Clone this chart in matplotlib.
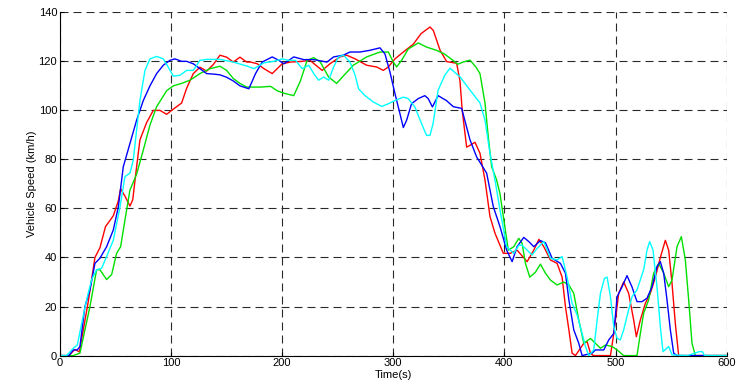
import numpy as np
import matplotlib
matplotlib.use("Agg")
import matplotlib.pyplot as plt

## speed traces, time (s) and vehicle speed (km/h)
t_red = [0, 8, 13.5, 17.5, 25.5, 31.5, 36, 41, 48, 52.5, 54.6, 58.5, 63, 65.5, 69, 72, 78, 84, 90, 96,
         100.5, 105, 109.5, 114, 120, 126, 132, 138, 144, 150, 156, 162, 168, 171.6, 177.6, 183.6, 191,
         200, 207.5, 218, 225, 236, 243, 252, 258, 265.7, 276, 285, 291, 295.5, 301.5, 309, 318, 325,
         333, 336, 342, 348, 357, 360, 362, 366, 370, 373.5, 378, 382.5, 387, 391.5, 399, 405.4,
         411.4, 420.4, 426.4, 431, 435.4, 441.4, 447.4, 451.9, 454.9, 458, 460.9, 463.9, 471.4, 474.4,
         477.4, 480, 495.4, 498.4, 502.8, 507.3, 511.8, 516.3, 518.7, 522.3, 526.8, 531.3, 535.8,
         540.3, 544.8, 547.8, 550.8, 553.8, 556.8, 600]
v_red = [0, 0, 2.5, 1.5, 22, 40, 44, 52.6, 57, 63, 68, 65, 61, 63.5, 77, 88, 95, 100, 100, 98.4,
         100, 101.5, 103, 109, 115, 117.6, 116, 118.7, 122.5, 121.7, 119.7, 121.7, 119.7, 119.7, 119,
         117, 115, 119, 119.7, 120, 120.4, 116.3, 119, 121.8, 122.5, 121, 118.4, 117.7, 116.3, 117.7,
         121, 123.8, 127, 131.3, 134, 132.6, 124.6, 119.9, 119.2, 112, 100, 85, 86, 87, 82.5, 71.6,
         56.7, 49.9, 41.7, 41.7, 43, 38.3, 43, 47.4, 44.4, 39, 37.6, 32, 20, 10.5, 1, 0, 5, 5.7, 1, 0,
         0, 9, 25.4, 30, 25.4, 14.5, 7.7, 14.5, 21.3, 25.4, 32, 40, 47, 43, 29.5, 13, 0, 0]

t_green = [0, 12, 18, 22.5, 27, 33, 36, 39, 42, 46.5, 51, 54.6, 58.5, 63, 69, 75, 81, 87, 96, 102,
           109.5, 117, 126, 135, 144, 150, 156, 162, 168, 171.6, 180.6, 189.6, 195.5, 201.5, 210.4,
           216.4, 222.4, 228.4, 234.3, 241.8, 249, 255, 264, 276, 288, 295.5, 300, 303, 307.5, 313.4,
           322.4, 330, 338.8, 346, 353.7, 358, 362.7, 369, 374.6, 378, 382.5, 385.5, 388.5, 393,
           396, 399, 403.5, 408.4, 412.9, 415.9, 418.9, 422.8, 427.9, 432.4, 436.9, 441.4, 447.4,
           453.4, 458, 462.4, 466.9, 471.4, 477.4, 481.9, 486.4, 491, 496.9, 501.4, 507.3, 519.3,
           522.3, 525.3, 529.8, 534.3, 538.8, 543.3, 547.8, 550.8, 555.3, 559.2, 562.8, 565.8, 568.8,
           571.8, 600]
v_green = [0, 0, 1, 10.5, 20, 35, 35, 33, 31, 33, 41.7, 44.4, 55.3, 67.5, 74, 83.8, 94, 101.5, 108,
           110, 111, 112.3, 115, 117, 118, 116.3, 113, 111, 109.5, 109.5, 109.5, 109.8, 108, 107, 106,
           112, 120.4, 121.5, 119.7, 113.6, 111, 114, 118.4, 121.8, 123.8, 123.8, 119.7, 117.7, 120.4,
           125, 127.5, 125.8, 124.5, 123, 120.4, 118.8, 119.7, 120.5, 117.5, 115, 103, 89, 77, 71.6,
           66, 56.7, 43, 44.4, 47.8, 45.8, 37.6, 32, 34, 37.3, 33.6, 30.8, 28.8, 30, 28.8, 25.4,
           14.5, 5, 7, 5, 3, 4.3, 3.7, 2.3, 0, 0, 9, 17.3, 22.7, 33.6, 37.6, 33.6, 28.1, 30.8, 44.4,
           48.5, 39, 22.7, 5, 0, 0]

t_blue = [0, 8, 12, 15.6, 18, 22.5, 27, 31.5, 36, 42, 48, 52.5, 57, 63, 69, 75, 81, 87, 93, 99, 103.5,
          109.5, 114, 120, 126, 132, 138, 144, 150, 156, 162, 170, 176, 182, 191, 197, 201.5, 210.4,
          219.4, 228.4, 240.3, 246.3, 255, 261, 270, 279, 288, 292.5, 297, 301.5, 306, 309, 312, 316.4,
          322.4, 328.4, 331.4, 335.2, 340.3, 347.8, 354, 361.5, 369, 375, 384, 390, 396, 402, 406.9,
          411.4, 417.4, 421.9, 426.4, 432.4, 436.9, 442.9, 450.4, 454.9, 458,
          462.4, 466.9, 469.9, 478.9, 481.9, 489.4, 493.9, 498.4, 501.4, 505.8, 510.3, 514.8, 519.3,
          523.8, 528.3, 532.8, 537.3, 540.3, 543.3, 546.3, 549.3, 552.3, 555.3, 600]
v_blue = [0, 0, 2.3, 2.3, 3.7, 20, 26.8, 37.6, 39.7, 44.4, 51.2, 60.5, 77, 86.5, 96, 104, 110, 115,
          118.4, 120.4, 121, 120, 120, 119, 117, 115, 114.8, 114.5, 113.5, 112, 110, 108.8, 115,
          119.7, 121.8, 120.4, 119, 121.8, 120.7, 120.7, 119.7, 121.8, 122.5, 123.8, 123.8, 124.5,
          125.5, 123, 115.6, 106.8, 98.6, 93, 96, 102.7, 104.8, 106, 104.8, 101.4, 106, 104, 101.5,
          100.8, 88, 81, 74.4, 60.7, 52.6, 43, 38.3, 44.4, 48.2, 46.5, 44.4, 46.9, 46,
          39.7, 37.6, 33.6, 22.7, 10.5, 5, 0, 1, 2.3, 2.3, 6.4, 9, 24, 28, 32.6, 28, 22, 22, 23.4, 28,
          36.3, 38.3, 33.6, 22.7, 10.5, 1, 0, 0]

t_cyan = [0, 6, 12, 15.6, 19.5, 24, 28.5, 33, 37.5, 42, 48, 54, 58.5, 63, 66, 69, 72, 76.5, 81, 87,
          93, 97.5, 102, 108, 114, 120, 126, 132, 144, 156, 168.7, 174.6, 183.6, 192.5, 200, 206, 212,
          218, 223.9, 228.4, 232.8, 237.3, 241.8, 246.3, 250.7, 255.2, 261, 265.7, 268.7, 274.6, 282,
          289.6, 295.5, 301.5, 309, 313.4, 319.4, 325.4, 329.9, 333, 335.8, 340.3, 346.3, 351, 355,
          360, 369, 378, 382.5, 387, 391.5, 396, 402, 405.4, 408.4, 412.9, 415.9, 420.4,
          424.9, 429.4, 435.4, 441.4, 447.4, 451.9, 456.4, 460.9, 465.4, 469.9, 472.9, 475.9, 480.4,
          483.4, 486.4, 490, 492.4, 495.4, 498.4, 501.4, 504.3, 507.3, 510.3, 514.8, 519.3, 525.3,
          528.3, 530.7, 533.7, 537.3, 540.3, 542.7, 547.8, 550.8, 564.8, 575.3, 578.2, 580, 600]
v_cyan = [0, 0, 3, 4.3, 13, 22.7, 31, 35, 35.6, 40.4, 47, 60.5, 73, 74.4, 79.7, 92, 104, 116.3, 121,
          122, 121, 117.6, 114, 114.3, 116.3, 116.3, 120.4, 120.8, 120.8, 119.7, 118, 117, 119.4, 120,
          121, 120.4, 120.4, 117, 118.4, 115, 112.3, 113.6, 112.3, 117.7, 121.8, 122.5, 119.7, 114.3,
          108.8, 106, 103.4, 101.6, 102.7, 104, 105.4, 104.8, 101.4, 94.6, 89.8, 89.8, 94.6, 108.2,
          114.3, 117.2, 115.6, 113.7, 108.3, 103, 96, 82.5, 71.6, 59.4, 44.4, 43, 41.7, 45, 45, 43, 41,
          43.7, 46.5, 39.7, 39, 40.4, 32, 21.3, 16.6, 9, 3.7, 0, 2.3, 14.5, 25.4, 31.5, 32, 24, 11.8, 7,
          6.4, 10.5, 16, 24, 26.8, 35, 43, 46.5, 43, 28, 11.8, 1.6, 3.7, 0.3, 0, 1.6, 1.6, 0, 0]

x_ticks = [0, 100, 200, 300, 400, 500, 600]
y_ticks = [0, 20, 40, 60, 80, 100, 120, 140]

plt.rcParams["font.family"] = ["Liberation Sans", "DejaVu Sans"]

fig = plt.figure(figsize=(7.4, 3.84), dpi=100)
ax = fig.add_axes([0.081, 0.074, 0.901, 0.894])

ax.plot(t_red, v_red, color="#ff0000", lw=1.0)
ax.plot(t_green, v_green, color="#00e000", lw=1.0)
ax.plot(t_blue, v_blue, color="#0000ff", lw=1.0)
ax.plot(t_cyan, v_cyan, color="#00ffff", lw=1.0)

ax.set_xlim(0, 600)
ax.set_ylim(0, 140)
ax.set_xticks(x_ticks)
ax.set_yticks(y_ticks)
ax.grid(True, color="#2a2a2a", linestyle=(0, (7.2, 4.5)), linewidth=0.8)
ax.set_axisbelow(True)

for side in ["top", "right"]:
    ax.spines[side].set_visible(False)
ax.spines["left"].set_linewidth(0.8)
ax.spines["bottom"].set_linewidth(0.8)
ax.tick_params(direction="in", length=3, labelsize=8, pad=2)

ax.set_xlabel("Time(s)", fontsize=8, labelpad=1)
ax.set_ylabel("Vehicle Speed (km/h)", fontsize=8, labelpad=1)

plt.savefig("out.png", dpi=100)
